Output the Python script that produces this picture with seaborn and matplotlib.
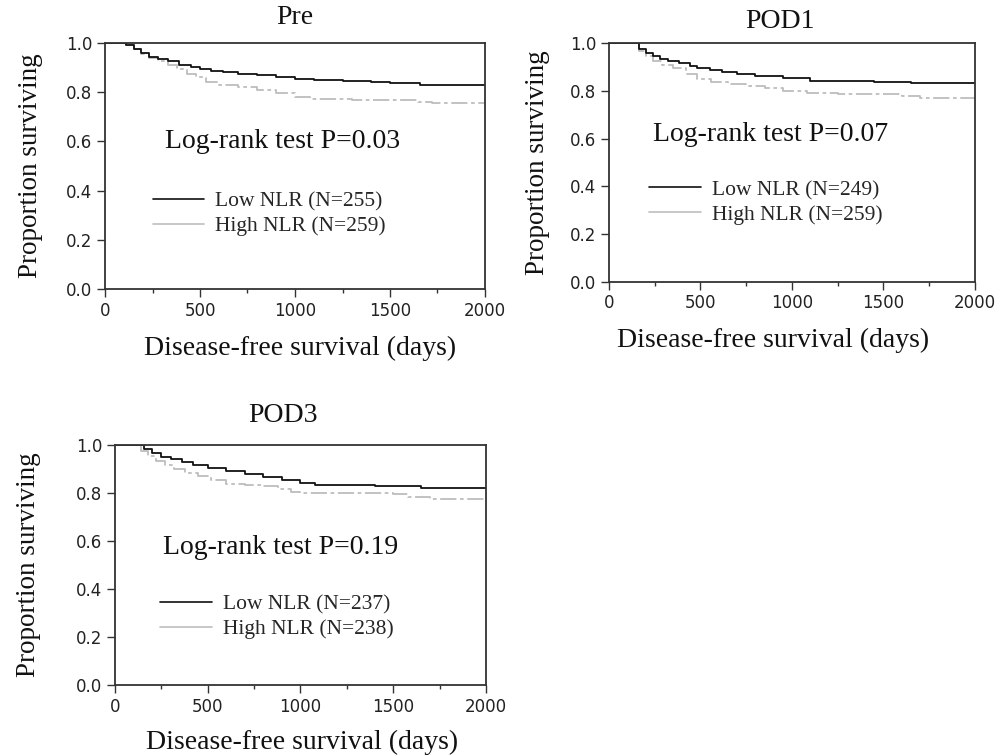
import numpy as np
import pandas as pd
import matplotlib
matplotlib.use("Agg")
import matplotlib.pyplot as plt
from matplotlib.lines import Line2D
from matplotlib.ticker import MultipleLocator
import seaborn as sns

# ---------------- data ----------------
pre_low_t = [0, 110, 150, 190, 230, 280, 330, 390, 450, 500, 560, 620, 700, 800, 900, 1000, 1100, 1250, 1400, 1500, 1660, 2000]
pre_low_s = [1.0, 0.99, 0.975, 0.96, 0.945, 0.935, 0.925, 0.912, 0.903, 0.895, 0.888, 0.882, 0.876, 0.868, 0.860, 0.855, 0.848, 0.845, 0.840, 0.836, 0.828, 0.828]
pre_high_t = [0, 110, 150, 190, 230, 280, 330, 380, 430, 480, 530, 600, 700, 800, 900, 1000, 1080, 1300, 1550, 1650, 1720, 2000]
pre_high_s = [1.0, 0.99, 0.975, 0.955, 0.94, 0.925, 0.91, 0.895, 0.875, 0.86, 0.84, 0.828, 0.82, 0.808, 0.795, 0.78, 0.772, 0.770, 0.768, 0.76, 0.755, 0.755]

pod1_low_t = [0, 165, 200, 240, 280, 320, 380, 440, 480, 550, 620, 700, 800, 950, 1100, 1300, 1450, 1650, 2000]
pod1_low_s = [1.0, 0.975, 0.96, 0.945, 0.935, 0.925, 0.915, 0.905, 0.895, 0.885, 0.878, 0.872, 0.862, 0.852, 0.843, 0.840, 0.836, 0.832, 0.832]
pod1_high_t = [0, 165, 200, 240, 290, 350, 420, 480, 560, 650, 750, 850, 950, 1080, 1250, 1500, 1600, 1700, 2000]
pod1_high_s = [1.0, 0.965, 0.945, 0.925, 0.91, 0.895, 0.87, 0.848, 0.838, 0.83, 0.82, 0.81, 0.80, 0.79, 0.788, 0.785, 0.777, 0.77, 0.768]

pod3_low_t = [0, 158, 200, 250, 300, 360, 420, 500, 600, 700, 800, 900, 1000, 1080, 1400, 1650, 2000]
pod3_low_s = [1.0, 0.985, 0.965, 0.952, 0.94, 0.93, 0.915, 0.905, 0.89, 0.878, 0.865, 0.853, 0.843, 0.833, 0.828, 0.822, 0.822]
pod3_high_t = [0, 140, 180, 220, 270, 320, 380, 450, 520, 600, 700, 800, 880, 950, 1000, 1300, 1500, 1580, 1700, 2000]
pod3_high_s = [1.0, 0.975, 0.955, 0.935, 0.915, 0.9, 0.885, 0.87, 0.855, 0.838, 0.835, 0.83, 0.815, 0.805, 0.80, 0.80, 0.795, 0.785, 0.775, 0.775]

panel_titles = ["Pre", "POD1", "POD3"]
p_texts = ["Log-rank test P=0.03", "Log-rank test P=0.07", "Log-rank test P=0.19"]
low_labels = ["Low NLR (N=255)", "Low NLR (N=249)", "Low NLR (N=237)"]
high_labels = ["High NLR (N=259)", "High NLR (N=259)", "High NLR (N=238)"]
x_ticks = [0, 500, 1000, 1500, 2000]
y_ticks = [0.0, 0.2, 0.4, 0.6, 0.8, 1.0]

# ---------------- style ----------------
sns.set_theme(style="ticks")
plt.rcParams["font.family"] = ["DejaVu Sans"]
SERIF = ["Liberation Serif", "DejaVu Serif"]
AXC = "#333333"
LOWC = "#111111"
HIGHC = "#bdbdbd"

W, H = 1003, 756
fig = plt.figure(figsize=(W / 100, H / 100), dpi=100)

def px_axes(l, t, r, b):
    return fig.add_axes([l / W, 1 - b / H, (r - l) / W, (b - t) / H])

panels = [
    dict(box=(105, 43, 485, 289), low=(pre_low_t, pre_low_s), high=(pre_high_t, pre_high_s),
         ptxt=(316, 0.60), leg=(0.125, 0.397), title=(0.5, 1.102),
         xlab=(0.513, -0.19), ylab=(-0.163, 0.5)),
    dict(box=(609, 43, 975, 282), low=(pod1_low_t, pod1_low_s), high=(pod1_high_t, pod1_high_s),
         ptxt=(240, 0.617), leg=(0.11, 0.427), title=(0.466, 1.088),
         xlab=(0.448, -0.192), ylab=(-0.162, 0.5)),
    dict(box=(115, 445, 486, 685), low=(pod3_low_t, pod3_low_s), high=(pod3_high_t, pod3_high_s),
         ptxt=(259, 0.575), leg=(0.122, 0.378), title=(0.453, 1.125),
         xlab=(0.504, -0.188), ylab=(-0.2, 0.5)),
]

for i, p in enumerate(panels):
    ax = px_axes(*p["box"])
    df_low = pd.DataFrame({"days": p["low"][0], "surv": p["low"][1]})
    df_high = pd.DataFrame({"days": p["high"][0], "surv": p["high"][1]})
    sns.lineplot(data=df_high, x="days", y="surv", ax=ax, color=HIGHC, lw=1.3,
                 drawstyle="steps-post", linestyle=(0, (9, 2, 2, 2)), estimator=None, sort=False)
    sns.lineplot(data=df_low, x="days", y="surv", ax=ax, color=LOWC, lw=1.3,
                 drawstyle="steps-post", estimator=None, sort=False)
    ax.set_xlim(0, 2000)
    ax.set_ylim(0, 1.0)
    ax.set_xticks(x_ticks)
    ax.xaxis.set_minor_locator(MultipleLocator(250))
    ax.set_yticks(y_ticks)
    ax.set_yticklabels([f"{v:.1f}" for v in y_ticks])
    ax.tick_params(axis="both", which="major", direction="out", length=6, width=1,
                   color=AXC, labelcolor="#222222", labelsize=12, pad=3)
    ax.tick_params(axis="x", which="minor", direction="out", length=3, width=1, color=AXC)
    for s in ax.spines.values():
        s.set_color(AXC)
        s.set_linewidth(1.3)
        s.set_visible(True)
    ax.set_xlabel("Disease-free survival (days)", family=SERIF, fontsize=20, color="#111111")
    ax.xaxis.set_label_coords(*p["xlab"])
    ax.set_ylabel("Proportion surviving", family=SERIF, fontsize=19.5, color="#111111")
    ax.yaxis.set_label_coords(*p["ylab"])
    ax.text(p["title"][0], p["title"][1], panel_titles[i], transform=ax.transAxes,
            family=SERIF, fontsize=20, color="#111111", ha="center", va="center")
    ax.text(p["ptxt"][0], p["ptxt"][1], p_texts[i], family=SERIF, fontsize=20,
            color="#111111", va="center", ha="left")
    handles = [Line2D([], [], color=LOWC, lw=1.2), Line2D([], [], color=HIGHC, lw=1.2)]
    ax.legend(handles, [low_labels[i], high_labels[i]], loc="upper left",
              bbox_to_anchor=p["leg"], frameon=False, borderpad=0, borderaxespad=0,
              handlelength=2.4, handletextpad=0.5, labelspacing=0.22,
              prop={"family": SERIF, "size": 15.5})

fig.savefig("out.png", dpi=100, facecolor="white")
